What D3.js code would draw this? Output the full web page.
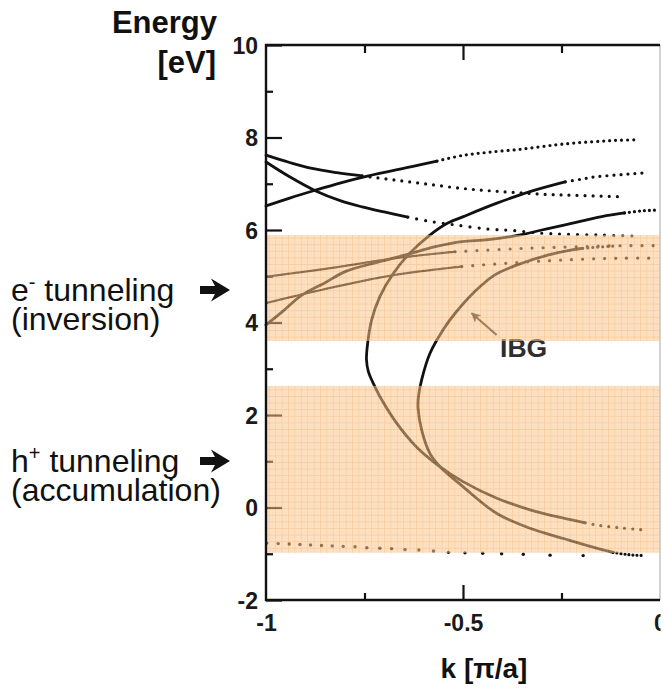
<!DOCTYPE html>
<html><head><meta charset="utf-8">
<script src="https://cdn.jsdelivr.net/npm/d3@7"></script>
<style>body{margin:0;background:#fff}svg{display:block}</style>
</head><body>
<svg id="chart" width="663" height="694"></svg>
<script>
// ---------------- DATA ----------------
const yTicksMajor = [10, 8, 6, 4, 2, 0, -2];
const yTickLabels = ["10", "8", "6", "4", "2", "0", "-2"];
const yTicksMinor = [9, 7, 5, 3, 1, -1];
const xTicksMajor = [-1, -0.5, 0];
const xTickLabels = ["-1", "-0.5", "0"];
const xTicksMinor = [-0.75, -0.25];
const bandHigh = [3.60, 5.89];   // e- tunneling window
const bandLow = [-0.98, 2.63];   // h+ tunneling window

// band A: from (-1, 7.62) falling
const bandA_solid = [[-1,7.62],[-0.94,7.46],[-0.883,7.33],[-0.82,7.24],[-0.756,7.17]];
const bandA_dots  = [[-0.756,7.17],[-0.673,7.08],[-0.59,6.99],[-0.503,6.90],[-0.436,6.85],[-0.368,6.81],[-0.292,6.77],[-0.216,6.75],[-0.107,6.72]];
// band B: from (-1, 6.52) rising
const bandB_solid = [[-1,6.52],[-0.94,6.69],[-0.875,6.86],[-0.81,7.02],[-0.74,7.17],[-0.63,7.37],[-0.566,7.49]];
const bandB_dots  = [[-0.566,7.49],[-0.503,7.61],[-0.436,7.68],[-0.35,7.75],[-0.266,7.84],[-0.203,7.89],[-0.147,7.92],[-0.109,7.94],[-0.058,7.95]];
// band C: from (-1, 7.47) falling steeply
const bandC_solid = [[-1,7.47],[-0.94,7.15],[-0.875,6.85],[-0.81,6.63],[-0.756,6.50],[-0.7,6.39],[-0.64,6.28]];
const bandC_dots  = [[-0.64,6.28],[-0.587,6.19],[-0.52,6.11],[-0.436,6.02],[-0.376,5.99],[-0.3,5.93],[-0.241,5.91],[-0.152,5.89],[-0.071,5.87]];
// band D: from (-1, 3.95) rising to (0, 6.43)
const bandD_solid = [[-1,3.95],[-0.959,4.23],[-0.909,4.59],[-0.85,4.86],[-0.799,5.10],[-0.714,5.31],[-0.646,5.46],[-0.57,5.64],[-0.503,5.75],[-0.436,5.79],[-0.351,5.90],[-0.3,6.0],[-0.241,6.11],[-0.148,6.29],[-0.09,6.37]];
const bandD_dots  = [[-0.09,6.37],[-0.05,6.41],[-0.013,6.43]];
// band E1, E2: flat dotted bands inside e- window
const bandE1_dense = [[-1,4.99],[-0.841,5.17],[-0.672,5.39],[-0.52,5.53]];
const bandE1_dots  = [[-0.52,5.53],[-0.351,5.60],[-0.2,5.64],[-0.097,5.66],[-0.013,5.66]];
const bandE2_dense = [[-1,4.42],[-0.841,4.74],[-0.672,5.03],[-0.503,5.21]];
const bandE2_dots  = [[-0.503,5.21],[-0.376,5.29],[-0.25,5.35],[-0.1,5.39],[-0.013,5.39]];
// left "C" loop (complex band)
const loopL_dotsTop = [[-0.046,7.23],[-0.080,7.21],[-0.123,7.18],[-0.165,7.15],[-0.199,7.10],[-0.241,7.04]];
const loopL_solid = [[-0.241,7.04],[-0.33,6.83],[-0.414,6.58],[-0.499,6.29],[-0.541,6.14],[-0.584,5.89],[-0.635,5.50],[-0.677,5.06],[-0.711,4.56],[-0.732,4.05],[-0.743,3.48],[-0.745,3.2],[-0.740,2.93],[-0.728,2.69],[-0.711,2.40],[-0.668,1.82],[-0.618,1.31],[-0.558,0.88],[-0.5,0.56],[-0.414,0.20],[-0.33,-0.05],[-0.245,-0.23],[-0.19,-0.33]];
const loopL_dotsBot = [[-0.19,-0.33],[-0.161,-0.38],[-0.1,-0.44],[-0.034,-0.49]];
// right "C" loop
const loopR_dotsTop = [[-0.12,5.65],[-0.16,5.63],[-0.2,5.60]];
const loopR_solid = [[-0.2,5.60],[-0.224,5.57],[-0.283,5.46],[-0.351,5.28],[-0.419,5.03],[-0.47,4.67],[-0.52,4.20],[-0.55,3.85],[-0.584,3.33],[-0.605,2.76],[-0.613,2.4],[-0.614,2.15],[-0.605,1.68],[-0.584,1.17],[-0.558,0.88],[-0.5,0.45],[-0.414,-0.13],[-0.33,-0.45],[-0.245,-0.67],[-0.161,-0.88],[-0.119,-0.97]];
const loopR_dotsBot = [[-0.119,-0.97],[-0.08,-1.02],[-0.04,-1.04]];
// flat band near -1 eV (individual sample points)
const bandF_k = [-0.998,-0.969,-0.941,-0.914,-0.887,-0.859,-0.832,-0.804,-0.774,-0.744,-0.711,-0.681,-0.647,-0.612,-0.575,-0.537,-0.495,-0.450,-0.402,-0.347,-0.279,-0.195];
const bandF_E = [-0.77,-0.78,-0.79,-0.80,-0.81,-0.82,-0.83,-0.84,-0.85,-0.87,-0.88,-0.89,-0.91,-0.92,-0.94,-0.97,-0.98,-0.99,-1.00,-1.01,-1.03,-1.04];
// IBG annotation (data coordinates)
const ibgLabel = {k: -0.406, E: 3.25, text: "IBG"};
const ibgArrow = [[-0.4145, 3.73], [-0.478, 4.20]];

// ---------------- DRAW ----------------
const svg = d3.select("#chart");
const FONT = "'Liberation Sans', Arial, Helvetica, sans-serif";
const x = d3.scaleLinear().domain([-1, 0]).range([266, 660]);
const y = d3.scaleLinear().domain([-2, 10]).range([600, 45]);

const defs = svg.append("defs");
const pat = defs.append("pattern").attr("id", "grid").attr("patternUnits", "userSpaceOnUse")
  .attr("width", 6.4).attr("height", 6.6).attr("x", 0).attr("y", 0);
pat.append("rect").attr("width", 6.4).attr("height", 6.6).attr("fill", "rgb(251,200,146)");
pat.append("line").attr("x1", 0.5).attr("x2", 0.5).attr("y1", 0).attr("y2", 6.6).attr("stroke", "rgb(246,165,80)").attr("stroke-width", 0.9);
pat.append("line").attr("x1", 0).attr("x2", 6.4).attr("y1", 0.5).attr("y2", 0.5).attr("stroke", "rgb(246,165,80)").attr("stroke-width", 0.9);
pat.append("circle").attr("cx", 3.7).attr("cy", 3.8).attr("r", 0.5).attr("fill", "rgb(240,160,90)");
defs.append("clipPath").attr("id", "labclip").append("rect").attr("x", 0).attr("y", 0).attr("width", 660.5).attr("height", 694);

const line = d3.line().x(d => x(d[0])).y(d => y(d[1])).curve(d3.curveCatmullRom.alpha(0.5));

// axes ticks (drawn under the band overlay)
const gTicks = svg.append("g");
const leftMajor = gTicks.append("g").attr("transform", `translate(${x(-1)},0)`)
  .call(d3.axisLeft(y).tickValues(yTicksMajor).tickSize(-16).tickPadding(8).tickFormat((d, i) => yTickLabels[i]));
const leftMinor = gTicks.append("g").attr("transform", `translate(${x(-1)},0)`)
  .call(d3.axisLeft(y).tickValues(yTicksMinor).tickSize(-7).tickFormat(""));
const topMajor = gTicks.append("g").attr("transform", `translate(0,${y(10)})`)
  .call(d3.axisTop(x).tickValues([-0.5]).tickSize(-15).tickFormat(""));
const topMinor = gTicks.append("g").attr("transform", `translate(0,${y(10)})`)
  .call(d3.axisTop(x).tickValues(xTicksMinor).tickSize(-8).tickFormat(""));
const botMajor = gTicks.append("g").attr("transform", `translate(0,${y(-2)})`)
  .attr("clip-path", "url(#labclipLocal)")
  .call(d3.axisBottom(x).tickValues(xTicksMajor).tickSize(-15).tickPadding(15).tickFormat((d, i) => xTickLabels[i]));
defs.append("clipPath").attr("id", "labclipLocal").append("rect").attr("x", 0).attr("y", -100).attr("width", 660.5).attr("height", 200);
const botMinor = gTicks.append("g").attr("transform", `translate(0,${y(-2)})`)
  .call(d3.axisBottom(x).tickValues(xTicksMinor).tickSize(-7).tickFormat(""));
gTicks.selectAll(".domain").remove();
gTicks.selectAll(".tick line").attr("stroke", "#111").attr("stroke-width", 2.2);
gTicks.selectAll(".tick text").attr("font-family", FONT).attr("font-weight", "bold")
  .attr("font-size", 23).attr("fill", "#1a1a1a");
leftMajor.selectAll(".tick text").attr("dy", "0.36em");
botMajor.selectAll(".tick").filter(d => d === -1 || d === 0).select("line").remove();

// curves
const gCurves = svg.append("g").attr("fill", "none").attr("stroke", "#111").attr("stroke-linecap", "round");
const solidSets = [bandA_solid, bandB_solid, bandC_solid, bandD_solid, loopL_solid, loopR_solid, bandE1_dense, bandE2_dense];
solidSets.forEach((pts, i) => {
  gCurves.append("path").attr("d", line(pts)).attr("stroke-width", i >= 6 ? 2.2 : 2.8)
    .attr("stroke-dasharray", i >= 6 ? "2.4 1.2" : null);
});
const dotSets = [
  [bandA_dots, 8], [bandB_dots, 6], [bandC_dots, 9], [bandD_dots, 5],
  [bandE1_dots, 11], [bandE2_dots, 11], [loopL_dotsTop, 7], [loopL_dotsBot, 8],
  [loopR_dotsTop, 5], [loopR_dotsBot, 4]
];
dotSets.forEach(([pts, gap]) => {
  gCurves.append("path").attr("d", line(pts)).attr("stroke-width", 3.2)
    .attr("stroke-dasharray", `0 ${gap}`);
});
svg.append("g").selectAll("circle").data(bandF_k).join("circle")
  .attr("cx", d => x(d)).attr("cy", (d, i) => y(bandF_E[i])).attr("r", 1.7).attr("fill", "#111");

// IBG annotation
svg.append("text").attr("x", x(ibgLabel.k)).attr("y", y(ibgLabel.E))
  .attr("font-family", FONT).attr("font-weight", "bold").attr("font-size", 26.5)
  .attr("fill", "#2e2e2e").text(ibgLabel.text);
defs.append("marker").attr("id", "ah").attr("viewBox", "0 0 10 10").attr("refX", 9).attr("refY", 5)
  .attr("markerWidth", 4.5).attr("markerHeight", 4.5).attr("orient", "auto")
  .append("path").attr("d", "M0,0 L10,5 L0,10 L3,5 Z").attr("fill", "#333");
svg.append("line").attr("x1", x(ibgArrow[0][0])).attr("y1", y(ibgArrow[0][1]))
  .attr("x2", x(ibgArrow[1][0])).attr("y2", y(ibgArrow[1][1]))
  .attr("stroke", "#333").attr("stroke-width", 2.2).attr("marker-end", "url(#ah)");

// band overlay (semi-transparent grid)
const gBand = svg.append("g").attr("opacity", 0.55);
[bandHigh, bandLow].forEach(b => {
  gBand.append("rect").attr("x", x(-1) + 1.2).attr("width", x(0) - x(-1) - 1.2)
    .attr("y", y(b[1])).attr("height", y(b[0]) - y(b[1])).attr("fill", "url(#grid)");
});

// frame
svg.append("line").attr("x1", x(0)).attr("x2", x(0)).attr("y1", y(10)).attr("y2", y(-2))
  .attr("stroke", "#c4c4c4").attr("stroke-width", 1.5);
svg.append("path").attr("d", `M${x(0)},${y(10)} H${x(-1)} V${y(-2)} H${x(0)}`)
  .attr("fill", "none").attr("stroke", "#111").attr("stroke-width", 2.4);

// axis titles
const t1 = svg.append("text").attr("text-anchor", "end").attr("font-family", FONT)
  .attr("font-weight", "bold").attr("font-size", 31).attr("fill", "#111");
t1.append("tspan").attr("x", 217).attr("y", 33).text("Energy");
t1.append("tspan").attr("x", 216).attr("y", 73).text("[eV]");
svg.append("text").attr("x", 484).attr("y", 678).attr("text-anchor", "middle")
  .attr("font-family", FONT).attr("font-weight", "bold").attr("font-size", 28).attr("fill", "#111")
  .text("k [π/a]");

// side annotations
const arrowShape = [[0,-4],[15,-4],[11,-11.5],[30,0],[11,11.5],[15,4],[0,4]];
function sideLabel(yBase, carrier, sign, second) {
  const t = svg.append("text").attr("font-family", FONT).attr("font-size", 32).attr("fill", "#111");
  t.append("tspan").attr("x", 11).attr("y", yBase).text(carrier);
  t.append("tspan").attr("font-size", 20).attr("dy", -12).text(sign);
  t.append("tspan").attr("dy", 12).text(" tunneling");
  svg.append("path").attr("transform", `translate(200,${yBase - 11})`)
    .attr("d", d3.line()(arrowShape) + "Z").attr("fill", "#111");
  svg.append("text").attr("x", 11).attr("y", yBase + 29).attr("font-family", FONT)
    .attr("font-size", 32).attr("fill", "#111").text(second);
}
sideLabel(301, "e", "-", "(inversion)");
sideLabel(472, "h", "+", "(accumulation)");
</script>
</body></html>
